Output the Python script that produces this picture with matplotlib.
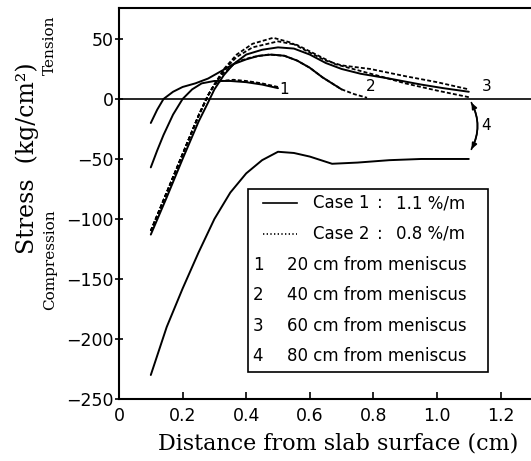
import matplotlib
matplotlib.use("Agg")
import matplotlib.pyplot as plt
from matplotlib.patches import Rectangle

# Case 1 (solid) curves, stress in kg/cm2 vs distance in cm
c1_1_x = [0.10, 0.12, 0.14, 0.17, 0.20, 0.23, 0.26, 0.30, 0.35, 0.40, 0.45, 0.50]
c1_1_y = [-57, -43, -30, -13, 0, 8, 13, 15, 15, 14, 12, 9]
c1_2_x = [0.10, 0.12, 0.14, 0.17, 0.20, 0.24, 0.28, 0.32, 0.36, 0.40, 0.44, 0.48,
          0.52, 0.56, 0.60, 0.64, 0.67, 0.70]
c1_2_y = [-20, -9, 0, 6, 10, 13, 17, 23, 29, 33, 36, 37, 36, 32, 26, 18, 13, 8]
c1_3_x = [0.10, 0.15, 0.20, 0.25, 0.28, 0.30, 0.33, 0.36, 0.40, 0.45, 0.50, 0.55,
          0.60, 0.65, 0.70, 0.76, 0.85, 0.95, 1.02, 1.10]
c1_3_y = [-113, -82, -50, -19, -3, 8, 20, 29, 37, 41, 43, 42, 37, 30, 25, 21, 17,
          12, 9, 6]
c1_4_x = [0.10, 0.15, 0.20, 0.25, 0.30, 0.35, 0.40, 0.45, 0.50, 0.55, 0.60, 0.67,
          0.75, 0.85, 0.95, 1.10]
c1_4_y = [-230, -190, -158, -128, -100, -78, -62, -51, -44, -45, -48, -54, -53,
          -51, -50, -50]

# Case 2 (dashed) curves
c2_1_x = [0.10, 0.15, 0.20, 0.25, 0.28, 0.30, 0.32, 0.36, 0.40, 0.45, 0.50]
c2_1_y = [-110, -78, -46, -14, 3, 12, 15, 16, 15, 13, 10]
c2_2_x = [0.10, 0.15, 0.20, 0.25, 0.28, 0.30, 0.33, 0.37, 0.42, 0.47, 0.52, 0.56,
          0.60, 0.64, 0.67, 0.70, 0.74, 0.78]
c2_2_y = [-110, -78, -46, -14, 3, 12, 22, 31, 35, 37, 36, 32, 26, 18, 13, 8, 4, 1]
c2_3_x = [0.10, 0.15, 0.20, 0.25, 0.28, 0.30, 0.33, 0.37, 0.42, 0.485, 0.54, 0.59,
          0.65, 0.70, 0.79, 0.90, 1.00, 1.10]
c2_3_y = [-110, -78, -46, -14, 3, 12, 25, 37, 46, 51, 47, 40, 32, 28, 25, 19, 14, 8]
c2_4_x = [0.10, 0.15, 0.20, 0.25, 0.28, 0.30, 0.33, 0.37, 0.42, 0.50, 0.56, 0.62,
          0.68, 0.75, 0.82, 0.90, 1.00, 1.10]
c2_4_y = [-110, -78, -46, -14, 3, 12, 24, 35, 43, 48, 45, 37, 29, 24, 19, 13, 7, 1.5]

xticks = [0, 0.2, 0.4, 0.6, 0.8, 1.0, 1.2]
xtick_labels = ['0', '0.2', '0.4', '0.6', '0.8', '1.0', '1.2']
yticks = [50, 0, -50, -100, -150, -200, -250]

cases = ['Case 1', 'Case 2']
rates = ['1.1 %/m', '0.8 %/m']
positions = ['20 cm from meniscus', '40 cm from meniscus',
             '60 cm from meniscus', '80 cm from meniscus']

fig = plt.figure(figsize=(5.31, 4.61), dpi=100)
ax = fig.add_axes([119 / 531, 1 - 399 / 461, 412 / 531, 391 / 461])
ax.set_xlim(0, 1.2956)
ax.set_ylim(-250, 75.8)

lw = 1.4
for xs, ys in [(c1_1_x, c1_1_y), (c1_2_x, c1_2_y), (c1_3_x, c1_3_y), (c1_4_x, c1_4_y)]:
    ax.plot(xs, ys, color='black', lw=lw, solid_capstyle='round')
for xs, ys in [(c2_1_x, c2_1_y), (c2_2_x, c2_2_y), (c2_3_x, c2_3_y), (c2_4_x, c2_4_y)]:
    ax.plot(xs, ys, color='black', lw=1.3, dashes=(2.2, 1.2))

ax.axhline(0, color='black', lw=1.2)

# curve numbers
ax.text(0.52, 8, '1', fontsize=11, ha='center', va='center')
ax.text(0.79, 10, '2', fontsize=11, ha='center', va='center')
ax.text(1.157, 10, '3', fontsize=11, ha='center', va='center')
ax.text(1.155, -22, '4', fontsize=11, ha='center', va='center')
# double arrow between case 1 and case 2 at 80 cm
arrow_x = c1_4_x[-1] + 0.004
ax.annotate('', xy=(arrow_x, c2_4_y[-1] - 2.5), xytext=(arrow_x, c1_4_y[-1] + 6),
            arrowprops=dict(arrowstyle='-|>,head_length=0.35,head_width=0.15',
                            color='black', lw=1.2,
                            connectionstyle='arc3,rad=0.28'))
ax.annotate('', xy=(arrow_x, c1_4_y[-1] + 6), xytext=(arrow_x, c2_4_y[-1] - 2.5),
            arrowprops=dict(arrowstyle='-|>,head_length=0.35,head_width=0.15',
                            color='black', lw=1.2,
                            connectionstyle='arc3,rad=-0.28'))

# legend box drawn by hand
ax.add_patch(Rectangle((0.406, -227.5), 0.754, 152.5, fill=False,
                       edgecolor='black', lw=1.2, zorder=5))
row_y = [-86.7, -112.5, -138, -163, -189, -214]
ax.plot([0.453, 0.56], [row_y[0], row_y[0]], color='black', lw=1.2)
ax.plot([0.453, 0.56], [row_y[1], row_y[1]], color='black', lw=1.2, dashes=(0.8, 1.4))
for i in range(2):
    ax.text(0.61, row_y[i], cases[i], fontsize=12, va='center')
    ax.text(0.81, row_y[i], ':', fontsize=12, va='center')
    ax.text(0.87, row_y[i], rates[i], fontsize=12, va='center')
for i in range(4):
    ax.text(0.437, row_y[i + 2], str(i + 1), fontsize=12, va='center', ha='center')
    ax.text(0.528, row_y[i + 2], positions[i], fontsize=12, va='center')

ax.set_xticks(xticks)
ax.set_xticklabels(xtick_labels)
ax.set_yticks(yticks)
ax.tick_params(axis='x', direction='in', length=5, width=1.2, labelsize=12.5, pad=6)
ax.tick_params(axis='y', direction='inout', length=6, width=1.2, labelsize=12.5, pad=1)
for s in ['left', 'bottom', 'top']:
    ax.spines[s].set_linewidth(1.5)
ax.spines['right'].set_visible(False)

fig.text(338 / 531, 1 - 443 / 461, 'Distance from slab surface (cm)',
         family='DejaVu Serif', fontsize=16, ha='center', va='center')
fig.text(27 / 531, 1 - 158 / 461, 'Stress  (kg/cm²)', family='DejaVu Serif',
         fontsize=17, rotation=90, ha='center', va='center')
fig.text(50 / 531, 1 - 45 / 461, 'Tension', family='DejaVu Serif',
         fontsize=11, rotation=90, ha='center', va='center')
fig.text(50 / 531, 1 - 260 / 461, 'Compression', family='DejaVu Serif',
         fontsize=11, rotation=90, ha='center', va='center')

fig.savefig('out.png', dpi=100)
